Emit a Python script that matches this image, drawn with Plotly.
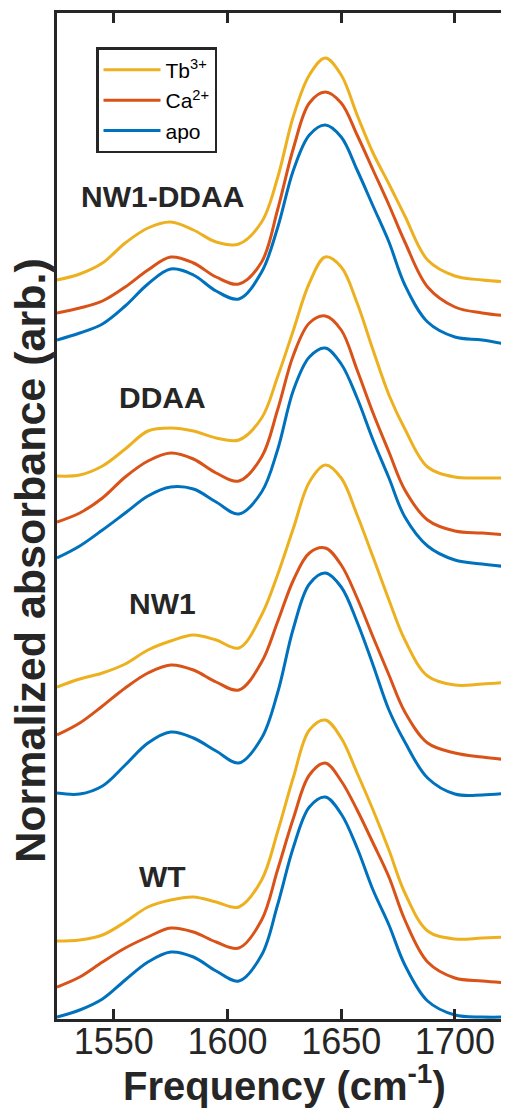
import plotly.graph_objects as go

# Frequency grid (cm^-1)
freq = [1525, 1535, 1545, 1555, 1565, 1575, 1585, 1595, 1605, 1615, 1622, 1629,
        1636, 1643, 1650, 1657, 1664, 1671, 1678, 1688, 1700, 1712, 1724]

# Normalized absorbance (arb., offset for display)
nw1ddaa_tb = [7.39, 7.45, 7.56, 7.76, 7.91, 7.97, 7.89, 7.77, 7.75, 7.97, 8.41, 9.03,
              9.44, 9.61, 9.44, 9.04, 8.66, 8.35, 8.03, 7.59, 7.43, 7.39, 7.37]
nw1ddaa_ca = [7.06, 7.11, 7.18, 7.32, 7.49, 7.62, 7.56, 7.42, 7.35, 7.57, 8.09, 8.71,
              9.16, 9.27, 9.16, 8.84, 8.49, 8.14, 7.77, 7.32, 7.12, 7.06, 7.03]
nw1ddaa_apo = [6.79, 6.86, 6.95, 7.13, 7.35, 7.50, 7.44, 7.28, 7.20, 7.47, 7.91, 8.49,
               8.84, 8.94, 8.82, 8.49, 8.13, 7.77, 7.34, 6.97, 6.82, 6.79, 6.74]

ddaa_tb = [5.43, 5.44, 5.53, 5.70, 5.88, 5.91, 5.88, 5.81, 5.79, 6.01, 6.42, 6.89,
           7.36, 7.62, 7.52, 7.16, 6.69, 6.24, 5.90, 5.52, 5.42, 5.41, 5.41]
ddaa_ca = [4.97, 5.06, 5.21, 5.42, 5.58, 5.66, 5.60, 5.46, 5.38, 5.62, 6.09, 6.64,
           6.96, 7.03, 6.89, 6.49, 6.06, 5.67, 5.29, 4.99, 4.88, 4.86, 4.84]
ddaa_apo = [4.61, 4.73, 4.89, 5.06, 5.23, 5.32, 5.30, 5.17, 5.05, 5.27, 5.69, 6.29,
            6.62, 6.71, 6.55, 6.21, 5.79, 5.41, 5.02, 4.73, 4.59, 4.55, 4.52]

nw1_tb = [3.32, 3.40, 3.46, 3.55, 3.69, 3.78, 3.84, 3.79, 3.71, 4.04, 4.44, 4.91,
          5.37, 5.54, 5.41, 5.04, 4.62, 4.19, 3.79, 3.43, 3.34, 3.35, 3.37]
nw1_ca = [2.84, 2.96, 3.13, 3.31, 3.46, 3.54, 3.49, 3.37, 3.29, 3.57, 3.97, 4.39,
          4.66, 4.71, 4.54, 4.21, 3.82, 3.44, 3.07, 2.76, 2.66, 2.62, 2.59]
nw1_apo = [2.26, 2.25, 2.33, 2.54, 2.76, 2.87, 2.81, 2.68, 2.56, 2.81, 3.26, 3.91,
           4.35, 4.46, 4.32, 3.97, 3.54, 3.09, 2.77, 2.41, 2.25, 2.24, 2.26]

wt_tb = [0.78, 0.79, 0.84, 0.97, 1.12, 1.19, 1.22, 1.17, 1.12, 1.39, 1.87, 2.42,
         2.89, 2.99, 2.81, 2.46, 2.09, 1.69, 1.26, 0.88, 0.80, 0.81, 0.82]
wt_ca = [0.32, 0.42, 0.57, 0.71, 0.82, 0.91, 0.87, 0.77, 0.71, 0.99, 1.49, 2.01,
         2.44, 2.56, 2.38, 2.09, 1.76, 1.42, 0.99, 0.57, 0.41, 0.38, 0.36]
wt_apo = [0.02, 0.09, 0.20, 0.39, 0.57, 0.67, 0.62, 0.48, 0.38, 0.64, 1.14, 1.72,
          2.12, 2.22, 2.05, 1.71, 1.29, 0.94, 0.54, 0.18, 0.04, 0.02, 0.02]

series_names = ["Tb<sup>3+</sup>", "Ca<sup>2+</sup>", "apo"]
series_colors = ["#EDB120", "#D95319", "#0072BD"]

groups = [
    ("NW1-DDAA", [nw1ddaa_tb, nw1ddaa_ca, nw1ddaa_apo]),
    ("DDAA", [ddaa_tb, ddaa_ca, ddaa_apo]),
    ("NW1", [nw1_tb, nw1_ca, nw1_apo]),
    ("WT", [wt_tb, wt_ca, wt_apo]),
]

# group label positions (x in cm^-1, y in plot units)
label_x = 1571.4
label_y = [8.23, 6.215, 4.16, 1.43]

AX = "#262626"
FONT = "Liberation Sans, Arial, Helvetica, sans-serif"

fig = go.Figure()
for gi, (gname, curves) in enumerate(groups):
    for si, yv in enumerate(curves):
        fig.add_trace(go.Scatter(
            x=freq, y=yv, mode="lines",
            line=dict(color=series_colors[si], width=3, shape="spline", smoothing=1.0),
            name=series_names[si], legendgroup="g%d" % si,
            showlegend=(gi == 0),
        ))

for gi, (gname, _) in enumerate(groups):
    fig.add_annotation(x=label_x, y=label_y[gi], xref="x", yref="y",
                       text="<b>%s</b>" % gname, showarrow=False,
                       font=dict(family=FONT, size=30, color=AX))

# axis titles
fig.add_annotation(x=0.504, y=0, xref="paper", yref="paper", yanchor="middle",
                   yshift=-64, showarrow=False,
                   text="<b>Frequency (cm<sup>-1</sup>)</b>",
                   font=dict(family=FONT, size=40, color=AX))
fig.add_annotation(x=-0.0585, y=0.456, xref="paper", yref="paper",
                   xanchor="center", yanchor="middle", textangle=-90,
                   showarrow=False, text="<b>Normalized absorbance (arb.)</b>",
                   font=dict(family=FONT, size=43, color=AX))

# page body has an 8px default margin: compensate so the plot lands where intended
fig.update_layout(
    width=501, height=1101,
    margin=dict(l=49, r=0, t=5, b=90),
    plot_bgcolor="white", paper_bgcolor="white",
    font=dict(family=FONT, color=AX),
    showlegend=True,
    legend=dict(x=0.0863, y=0.966, xanchor="left", yanchor="top",
                bordercolor=AX, borderwidth=2.5, bgcolor="white",
                font=dict(family=FONT, size=21, color="black"),
                tracegroupgap=0, itemwidth=57, traceorder="normal"),
    xaxis=dict(range=[1525, 1723.8], tickvals=[1550, 1600, 1650, 1700],
               ticks="inside", ticklen=10, tickwidth=2.5, tickcolor=AX,
               showline=True, linewidth=2.5, linecolor=AX, mirror="ticks",
               showgrid=False, zeroline=False, automargin=False,
               ticklabelstandoff=-11,
               tickfont=dict(family=FONT, size=36, color=AX)),
    yaxis=dict(range=[0, 10.06], showticklabels=False, ticks="",
               showline=True, linewidth=2.5, linecolor=AX, mirror=False,
               showgrid=False, zeroline=False, automargin=False),
)

fig.write_html("out.html")
